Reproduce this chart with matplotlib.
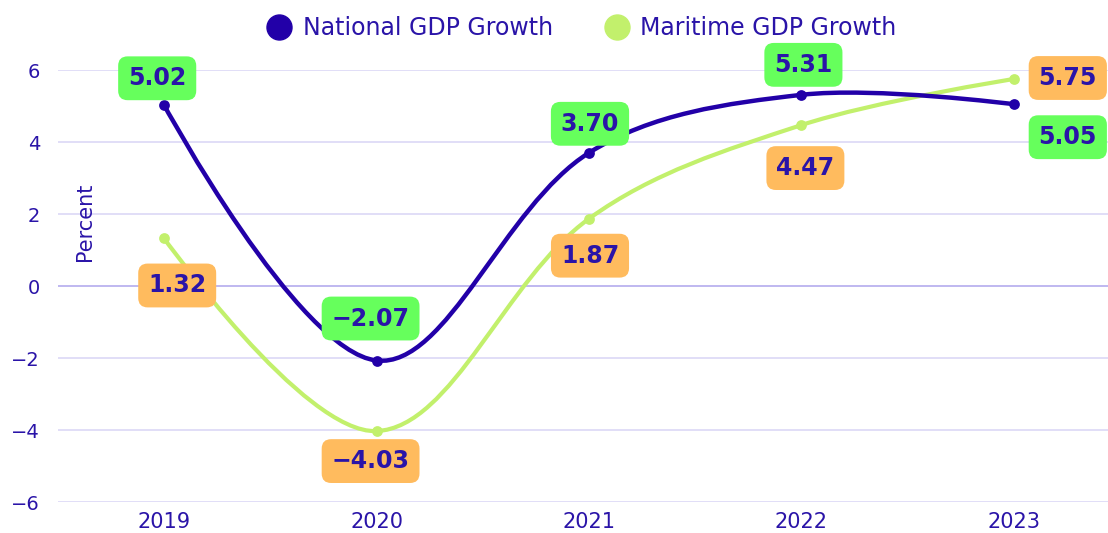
import numpy as np
import matplotlib.pyplot as plt
from matplotlib.path import Path
from matplotlib.patches import PathPatch
from matplotlib.lines import Line2D

plt.rcParams['font.family'] = ['DejaVu Sans']

years = ['2019', '2020', '2021', '2022', '2023']
national = [5.02, -2.07, 3.70, 5.31, 5.05]
maritime = [1.32, -4.03, 1.87, 4.47, 5.75]

nat_color = '#2200a8'
mar_color = '#c2f06c'
txt_color = '#2a14a8'
green_box = '#66ff5c'
orange_box = '#ffbb5e'
grid_color = '#dcd8f6'

# label offsets in pixels (dx, dy)
nat_off = [(-7, 27), (-6, 42), (1, 29), (2, 30), (54, -33)]
mar_off = [(13, -47), (-6, -30), (1, -37), (4, -43), (54, 1)]

W, H = 1108, 533
fig = plt.figure(figsize=(W / 100, H / 100), dpi=100)
ax = fig.add_axes([58 / W, 31 / H, 1062 / W, 432 / H])
ax.set_xlim(-0.5, 4.5)
ax.set_ylim(-6, 6)

px_x = 1062 / 5.0
px_y = 432 / 12.0


def smooth_path(xs, ys, smooth=0.35):
    # echarts style bezier smoothing, done in pixel space
    X = np.array(xs, float) * px_x
    Y = np.array(ys, float) * px_y
    n = len(X)
    cp_in = [None] * n
    cp_out = [None] * n
    for i in range(n):
        if i == 0 or i == n - 1:
            cp_in[i] = (X[i], Y[i])
            cp_out[i] = (X[i], Y[i])
            continue
        vx = X[i + 1] - X[i - 1]
        vy = Y[i + 1] - Y[i - 1]
        l0 = np.hypot(X[i] - X[i - 1], Y[i] - Y[i - 1])
        l1 = np.hypot(X[i + 1] - X[i], Y[i + 1] - Y[i])
        r = l1 / (l0 + l1)
        cp_in[i] = (X[i] - vx * smooth * (1 - r), Y[i] - vy * smooth * (1 - r))
        cp_out[i] = (X[i] + vx * smooth * r, Y[i] + vy * smooth * r)
    verts = [(X[0], Y[0])]
    codes = [Path.MOVETO]
    for i in range(1, n):
        verts += [cp_out[i - 1], cp_in[i], (X[i], Y[i])]
        codes += [Path.CURVE4] * 3
    verts = [(a / px_x, b / px_y) for a, b in verts]
    return Path(verts, codes)


for y in range(-6, 7, 2):
    ax.axhline(y, color='#b4acee' if y == 0 else grid_color, lw=1.2, zorder=0)

xs = np.arange(len(years))
ax.add_patch(PathPatch(smooth_path(xs, maritime), fc='none', ec=mar_color, lw=3, zorder=2,
                       capstyle='round'))
ax.add_patch(PathPatch(smooth_path(xs, national), fc='none', ec=nat_color, lw=3.2, zorder=3,
                       capstyle='round'))
ax.scatter(xs, maritime, s=60, color=mar_color, zorder=4, lw=0)
ax.scatter(xs, national, s=60, color=nat_color, zorder=5, lw=0)

for i in range(len(years)):
    ax.annotate(f'{national[i]:.2f}'.replace('-', '\u2212'), (xs[i], national[i]),
                xytext=nat_off[i], textcoords='offset pixels', ha='center', va='center',
                fontsize=17, fontweight='bold', color=txt_color, zorder=6,
                bbox=dict(boxstyle='round,pad=0.42,rounding_size=0.4', fc=green_box, ec='none'))
    ax.annotate(f'{maritime[i]:.2f}'.replace('-', '\u2212'), (xs[i], maritime[i]),
                xytext=mar_off[i], textcoords='offset pixels', ha='center', va='center',
                fontsize=17, fontweight='bold', color=txt_color, zorder=6,
                bbox=dict(boxstyle='round,pad=0.42,rounding_size=0.4', fc=orange_box, ec='none'))

ax.set_xticks(xs)
ax.set_xticklabels(years)
ax.set_yticks(range(-6, 7, 2))
ax.set_yticklabels([str(v).replace('-', '\u2212') for v in range(-6, 7, 2)])
ax.tick_params(axis='both', length=0, colors=txt_color)
ax.tick_params(axis='x', labelsize=15, pad=7)
ax.tick_params(axis='y', labelsize=14, pad=13)
for s in ax.spines.values():
    s.set_visible(False)

ax.text((85 - 58) / 1062, (502 - 222) / 432, 'Percent', transform=ax.transAxes, rotation=90,
        ha='center', va='center', fontsize=15, color=txt_color)

handles = [Line2D([], [], marker='o', ls='none', ms=18, color=nat_color),
           Line2D([], [], marker='o', ls='none', ms=18, color=mar_color)]
fig.legend(handles, ['National GDP Growth', 'Maritime GDP Growth'], loc='center',
           bbox_to_anchor=(582 / W, 1 - 28 / H), ncol=2, frameon=False, fontsize=17,
           labelcolor=txt_color, handletextpad=0.5, columnspacing=2.2, handlelength=1.0)

fig.savefig('out.png', dpi=100)
